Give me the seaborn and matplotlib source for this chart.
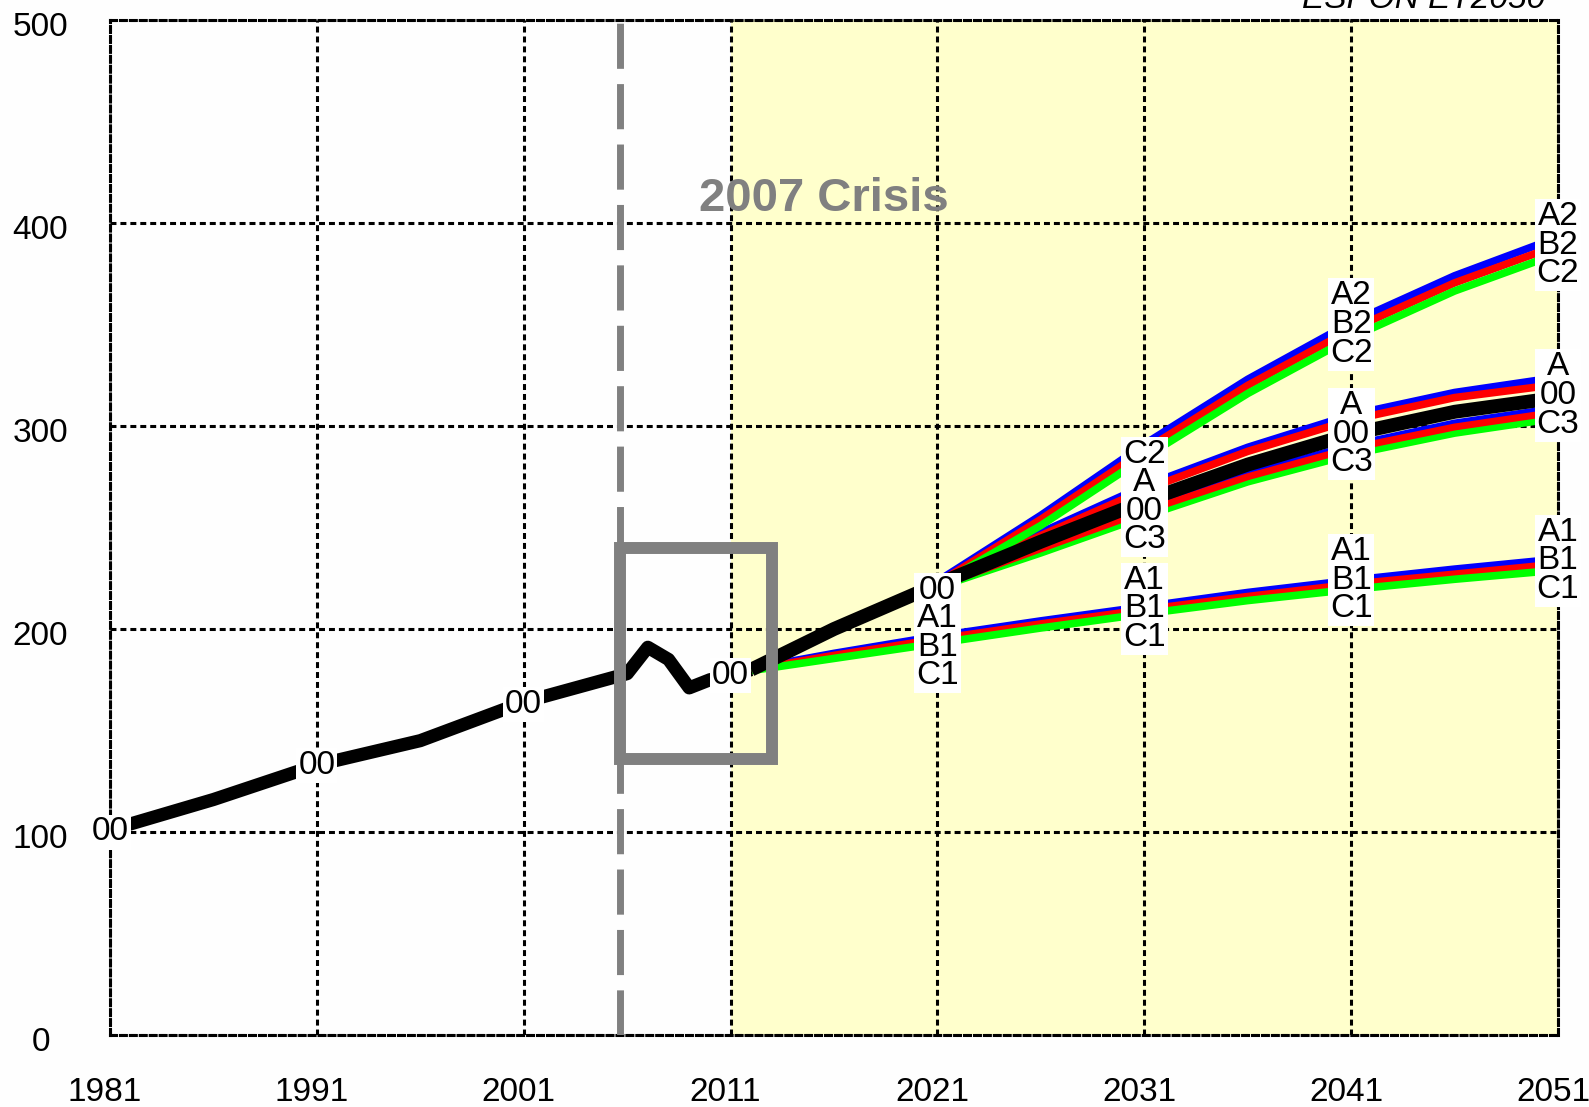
import matplotlib
matplotlib.use("Agg")
import matplotlib.pyplot as plt
import matplotlib.transforms as mtransforms
import seaborn as sns
import pandas as pd
from matplotlib.patches import Rectangle

# ---------------- data ----------------
hist_years = [1981, 1986, 1991, 1996, 2001, 2006, 2007, 2008, 2009, 2010, 2011, 2012]
hist_vals = [101, 116, 133, 145, 164, 178, 191, 185, 171, 175, 177, 180]

proj_years = [2012, 2016, 2021, 2026, 2031, 2036, 2041, 2046, 2051]

# high group
a2 = [180, 200, 223.5, 256, 291, 323, 351, 374, 393]
b2 = [180, 200, 222.5, 254, 288, 320, 347.5, 370.5, 389]
c2 = [180, 200, 221.5, 251, 284.5, 316, 343.5, 366.5, 385]
# middle group
a3 = [180, 200, 223, 247.5, 270.5, 289.5, 305.5, 316.5, 324]
b3 = [180, 200, 222.5, 246, 268.5, 287.5, 303, 314, 320.5]
base = [180, 200, 222, 243, 263, 281, 296, 307, 314]
a3_lo = [180, 200, 221.5, 240.5, 259.5, 276.5, 290.5, 301.5, 309]
b3_lo = [180, 200, 221, 239.5, 258, 275, 289, 299.5, 307]
c3 = [180, 199.5, 220.5, 237.5, 255.5, 272.5, 286, 296.5, 304]
# low group
a1 = [180.5, 188, 196.5, 204, 211, 218, 224, 229.5, 234.5]
b1 = [180, 187, 195, 202.5, 209.5, 216, 222, 227, 232]
c1 = [179.5, 185.5, 193, 200.5, 207.5, 214, 219.5, 224.5, 229]

# labels: (x, y, text)
label_x = [1981, 1991, 2001, 2011, 2021, 2031, 2031, 2041, 2041, 2041, 2051, 2051, 2051]
label_y = [100, 133, 163, 177, 198, 265, 210, 350, 296, 224, 389, 315, 233.5]
label_txt = ["00", "00", "00", "00", "00\nA1\nB1\nC1", "C2\nA\n00\nC3", "A1\nB1\nC1",
             "A2\nB2\nC2", "A\n00\nC3", "A1\nB1\nC1", "A2\nB2\nC2", "A\n00\nC3", "A1\nB1\nC1"]

x_ticks = [1981, 1991, 2001, 2011, 2021, 2031, 2041, 2051]
y_ticks = [0, 100, 200, 300, 400, 500]

crisis_year = 2005.65
box_x = [2005.65, 2013]
box_y = [136, 240]
forecast_start = 2011

# ---------------- style ----------------
sns.set_style("white")
plt.rcParams['font.family'] = ['Liberation Sans', 'DejaVu Sans']
plt.rcParams['text.color'] = 'black'
plt.rcParams['xtick.color'] = 'black'
plt.rcParams['ytick.color'] = 'black'

fig = plt.figure(figsize=(15.89, 11.07), dpi=100, facecolor="#FEFEFE")
ax = fig.add_axes([110/1589, 1-1035/1107, (1558-110)/1589, (1035-20)/1107])
ax.set_facecolor("#FEFEFE")

ax.axvspan(forecast_start, 2051, color="#FFFFCC", zorder=0, lw=0)

GREEN = "#00FF00"
RED = "#FF0000"
BLUE = "#0000FF"

def draw(xs, ys, color, lw, z):
    df = pd.DataFrame({"x": xs, "y": ys})
    sns.lineplot(data=df, x="x", y="y", color=color, linewidth=lw, ax=ax,
                 estimator=None, sort=False, zorder=z, solid_capstyle="butt")

draw(hist_years, hist_vals, "black", 9.5, 4)
# low group
draw(proj_years, a1, BLUE, 5.5, 3.0)
draw(proj_years, b1, RED, 5.5, 3.05)
draw(proj_years, c1, GREEN, 5.5, 3.1)
# middle group
draw(proj_years, a3, BLUE, 5.5, 3.2)
draw(proj_years, b3, RED, 5.5, 3.25)
draw(proj_years, c3, GREEN, 5.5, 3.3)
draw(proj_years, a3_lo, BLUE, 5.0, 3.35)
draw(proj_years, b3_lo, RED, 5.0, 3.4)
# high group
draw(proj_years, a2, BLUE, 5.5, 3.5)
draw(proj_years, b2, RED, 5.5, 3.55)
draw(proj_years, c2, GREEN, 5.5, 3.6)
draw(proj_years, base, "black", 10, 3.9)

ax.axvline(crisis_year, color="#808080", lw=5, linestyle=(0, (6.5, 2.2)), zorder=5)
ax.add_patch(Rectangle((box_x[0], box_y[0]), box_x[1]-box_x[0], box_y[1]-box_y[0],
                       fill=False, edgecolor="#808080", lw=8.6, zorder=6))

ax.text(2015.5, 412, "2007 Crisis", color="#808080", fontsize=34, fontweight="bold",
        ha="center", va="center", zorder=7)

for x, y, t in zip(label_x, label_y, label_txt):
    ax.text(x, y, t, fontsize=24, ha="center", va="center", linespacing=0.9,
            color="black", zorder=8, clip_on=False,
            bbox=dict(boxstyle="square,pad=0.06", fc="white", ec="none"))

ax.set_xlim(1981, 2051)
ax.set_ylim(0, 500)
ax.set_xticks(x_ticks)
ax.set_yticks(y_ticks)
ax.set_xticklabels([str(v) for v in x_ticks], fontsize=24, color="black")
ax.set_yticklabels([str(v) for v in y_ticks], fontsize=24, ha="center", color="black")
ax.tick_params(axis="x", length=0, pad=30)
ax.tick_params(axis="y", length=0, pad=50)
ax.set_xlabel("")
ax.set_ylabel("")

xoff = mtransforms.ScaledTranslation(-5/100, 0, fig.dpi_scale_trans)
for lab in ax.get_xticklabels():
    lab.set_transform(lab.get_transform() + xoff)
yoff = mtransforms.ScaledTranslation(0, -4/100, fig.dpi_scale_trans)
for lab in ax.get_yticklabels():
    lab.set_transform(lab.get_transform() + yoff)

ax.grid(True, color="black", lw=2.2, linestyle=(0, (1.95, 1.3)), zorder=1)
ax.set_axisbelow(True)
for s in ax.spines.values():
    s.set_visible(True)
    s.set_color("black")
    s.set_linewidth(2.2)
    s.set_linestyle((0, (1.95, 1.3)))
    s.set_zorder(1.5)

fig.text(1545/1589, 1-8/1107, "ESPON ET2050", fontsize=24, style="italic",
         ha="right", va="baseline")

fig.savefig("out.png", dpi=100, facecolor=fig.get_facecolor())
